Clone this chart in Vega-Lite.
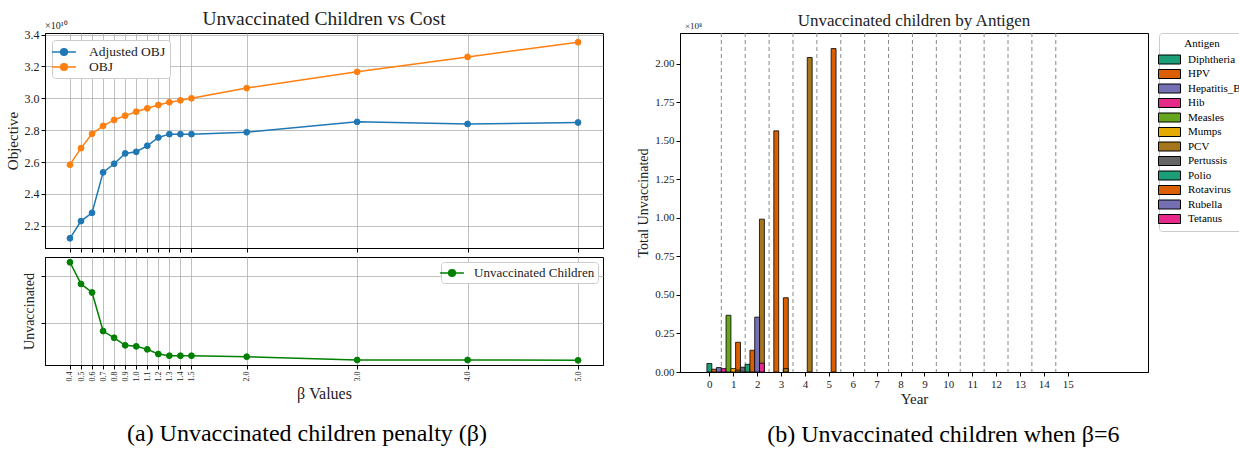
{
 "$schema": "https://vega.github.io/schema/vega-lite/v6.json",
 "background": "white",
 "padding": {"left": 4, "top": 8, "right": 0, "bottom": 0},
 "config": {
  "font": "Liberation Serif",
  "view": {"stroke": "black", "strokeWidth": 1},
  "axis": {"labelFont": "Liberation Serif", "titleFont": "Liberation Serif", "titleFontWeight": "normal", "labelColor": "#222", "titleColor": "#222", "domainColor": "black", "tickColor": "black", "gridColor": "#b0b0b0", "gridWidth": 0.8, "labelOverlap": false, "tickCount": 100},
  "legend": {"labelFont": "Liberation Serif", "titleFont": "Liberation Serif", "titleFontWeight": "normal"},
  "title": {"font": "Liberation Serif", "fontWeight": "normal", "color": "#222"}
 },
 "resolve": {"scale": {"color": "independent", "stroke": "independent"}, "legend": {"color": "independent", "stroke": "independent"}},
 "spacing": 32,
 "hconcat": [
  {
   "title": {"text": "(a) Unvaccinated children penalty (β)", "orient": "bottom", "fontSize": 24, "offset": 20, "anchor": "middle", "dx": 3, "color": "black"},
   "spacing": 3,
   "resolve": {"scale": {"color": "independent", "stroke": "independent"}, "legend": {"color": "independent", "stroke": "independent"}},
   "vconcat": [
    {
     "width": 558, "height": 215,
     "title": {"text": "Unvaccinated Children vs Cost", "fontSize": 19.5, "frame": "group", "anchor": "middle", "offset": -8},
     "data": {"values": [
      {"beta": 0.4, "series": "Adjusted OBJ", "objective": 21210000000},
      {"beta": 0.5, "series": "Adjusted OBJ", "objective": 22290000000},
      {"beta": 0.6, "series": "Adjusted OBJ", "objective": 22810000000},
      {"beta": 0.7, "series": "Adjusted OBJ", "objective": 25350000000},
      {"beta": 0.8, "series": "Adjusted OBJ", "objective": 25890000000},
      {"beta": 0.9, "series": "Adjusted OBJ", "objective": 26540000000},
      {"beta": 1.0, "series": "Adjusted OBJ", "objective": 26640000000},
      {"beta": 1.1, "series": "Adjusted OBJ", "objective": 27020000000},
      {"beta": 1.2, "series": "Adjusted OBJ", "objective": 27540000000},
      {"beta": 1.3, "series": "Adjusted OBJ", "objective": 27750000000},
      {"beta": 1.4, "series": "Adjusted OBJ", "objective": 27750000000},
      {"beta": 1.5, "series": "Adjusted OBJ", "objective": 27750000000},
      {"beta": 2.0, "series": "Adjusted OBJ", "objective": 27870000000},
      {"beta": 3.0, "series": "Adjusted OBJ", "objective": 28520000000},
      {"beta": 4.0, "series": "Adjusted OBJ", "objective": 28390000000},
      {"beta": 5.0, "series": "Adjusted OBJ", "objective": 28480000000},
      {"beta": 0.4, "series": "OBJ", "objective": 25830000000},
      {"beta": 0.5, "series": "OBJ", "objective": 26870000000},
      {"beta": 0.6, "series": "OBJ", "objective": 27770000000},
      {"beta": 0.7, "series": "OBJ", "objective": 28270000000},
      {"beta": 0.8, "series": "OBJ", "objective": 28640000000},
      {"beta": 0.9, "series": "OBJ", "objective": 28910000000},
      {"beta": 1.0, "series": "OBJ", "objective": 29160000000},
      {"beta": 1.1, "series": "OBJ", "objective": 29370000000},
      {"beta": 1.2, "series": "OBJ", "objective": 29580000000},
      {"beta": 1.3, "series": "OBJ", "objective": 29750000000},
      {"beta": 1.4, "series": "OBJ", "objective": 29870000000},
      {"beta": 1.5, "series": "OBJ", "objective": 30000000000},
      {"beta": 2.0, "series": "OBJ", "objective": 30640000000},
      {"beta": 3.0, "series": "OBJ", "objective": 31660000000},
      {"beta": 4.0, "series": "OBJ", "objective": 32600000000},
      {"beta": 5.0, "series": "OBJ", "objective": 33520000000}
     ]},
     "layer": [
      {
       "mark": {"type": "line", "strokeWidth": 1.5},
       "encoding": {
        "x": {"field": "beta", "type": "quantitative", "scale": {"domain": [0.174, 5.226], "nice": false, "zero": false}, "axis": {"values": [0.4, 0.5, 0.6, 0.7, 0.8, 0.9, 1.0, 1.1, 1.2, 1.3, 1.4, 1.5, 2.0, 3.0, 4.0, 5.0], "labels": false, "title": null, "tickSize": 4, "grid": true}},
        "y": {"field": "objective", "type": "quantitative", "scale": {"domain": [20600000000, 34100000000], "nice": false, "zero": false}, "axis": {"values": [22000000000, 24000000000, 26000000000, 28000000000, 30000000000, 32000000000, 34000000000], "labelExpr": "format(datum.value / 1e10, '.1f')", "title": "Objective", "titleFontSize": 15, "labelFontSize": 12, "tickSize": 4, "labelPadding": 2, "titlePadding": 4, "grid": true}},
        "stroke": {"field": "series", "type": "nominal", "scale": {"domain": ["Adjusted OBJ", "OBJ"], "range": ["#1f77b4", "#ff7f0e"]}, "legend": {"title": null, "orient": "top-left", "offset": 7, "symbolType": "M-1.7,0L1.7,0M-0.48,0A0.48,0.48,0,1,1,0.48,0A0.48,0.48,0,1,1,-0.48,0Z", "symbolSize": 196, "symbolStrokeWidth": 1.5, "labelFontSize": 13.5, "labelColor": "#222", "strokeColor": "#cccccc", "fillColor": "white", "padding": 4, "cornerRadius": 3, "rowPadding": -2, "labelOffset": 17}}
       }
      },
      {
       "mark": {"type": "point", "filled": true, "size": 34, "opacity": 1, "strokeWidth": 1},
       "encoding": {
        "x": {"field": "beta", "type": "quantitative"},
        "y": {"field": "objective", "type": "quantitative"},
        "stroke": {"field": "series", "type": "nominal", "scale": {"domain": ["Adjusted OBJ", "OBJ"], "range": ["#1f77b4", "#ff7f0e"]}, "legend": {"title": null, "orient": "top-left", "offset": 7, "symbolType": "M-1.7,0L1.7,0M-0.48,0A0.48,0.48,0,1,1,0.48,0A0.48,0.48,0,1,1,-0.48,0Z", "symbolSize": 196, "symbolStrokeWidth": 1.5, "labelFontSize": 13.5, "labelColor": "#222", "strokeColor": "#cccccc", "fillColor": "white", "padding": 4, "cornerRadius": 3, "rowPadding": -2, "labelOffset": 17}},
        "color": {"field": "series", "type": "nominal", "scale": {"domain": ["Adjusted OBJ", "OBJ"], "range": ["#1f77b4", "#ff7f0e"]}, "legend": {"title": null, "orient": "top-left", "offset": 7, "symbolType": "M-1.7,0L1.7,0M-0.48,0A0.48,0.48,0,1,1,0.48,0A0.48,0.48,0,1,1,-0.48,0Z", "symbolSize": 196, "symbolStrokeWidth": 1.5, "labelFontSize": 13.5, "labelColor": "#222", "strokeColor": "#cccccc", "fillColor": "white", "padding": 4, "cornerRadius": 3, "rowPadding": -2, "labelOffset": 17}}
       }
      },
      {
       "data": {"values": [{"label": "×10¹⁰"}]},
       "mark": {"type": "text", "align": "left", "baseline": "alphabetic", "dy": -4, "fontSize": 10, "color": "#222"},
       "encoding": {"x": {"datum": 0.174}, "y": {"datum": 34100000000}, "text": {"field": "label"}}
      }
     ]
    },
    {
     "width": 558, "height": 108,
     "data": {"values": [
      {"beta": 0.4, "series": "Unvaccinated Children", "unvaccinated": 22980000},
      {"beta": 0.5, "series": "Unvaccinated Children", "unvaccinated": 18360000},
      {"beta": 0.6, "series": "Unvaccinated Children", "unvaccinated": 16530000},
      {"beta": 0.7, "series": "Unvaccinated Children", "unvaccinated": 8300000},
      {"beta": 0.8, "series": "Unvaccinated Children", "unvaccinated": 6870000},
      {"beta": 0.9, "series": "Unvaccinated Children", "unvaccinated": 5260000},
      {"beta": 1.0, "series": "Unvaccinated Children", "unvaccinated": 5040000},
      {"beta": 1.1, "series": "Unvaccinated Children", "unvaccinated": 4400000},
      {"beta": 1.2, "series": "Unvaccinated Children", "unvaccinated": 3400000},
      {"beta": 1.3, "series": "Unvaccinated Children", "unvaccinated": 3040000},
      {"beta": 1.4, "series": "Unvaccinated Children", "unvaccinated": 3040000},
      {"beta": 1.5, "series": "Unvaccinated Children", "unvaccinated": 3040000},
      {"beta": 2.0, "series": "Unvaccinated Children", "unvaccinated": 2830000},
      {"beta": 3.0, "series": "Unvaccinated Children", "unvaccinated": 2130000},
      {"beta": 4.0, "series": "Unvaccinated Children", "unvaccinated": 2130000},
      {"beta": 5.0, "series": "Unvaccinated Children", "unvaccinated": 2060000}
     ]},
     "layer": [
      {
       "mark": {"type": "line", "strokeWidth": 1.5},
       "encoding": {
        "x": {"field": "beta", "type": "quantitative", "scale": {"domain": [0.174, 5.226], "nice": false, "zero": false}, "axis": {"values": [0.4, 0.5, 0.6, 0.7, 0.8, 0.9, 1.0, 1.1, 1.2, 1.3, 1.4, 1.5, 2.0, 3.0, 4.0, 5.0], "format": ".1f", "labelAngle": -90, "labelFontSize": 8, "title": "β Values", "titleFontSize": 16, "tickSize": 4, "grid": true, "titlePadding": 4}},
        "y": {"field": "unvaccinated", "type": "quantitative", "scale": {"domain": [1060000, 24100000], "nice": false, "zero": false}, "axis": {"values": [10000000, 20000000], "labels": false, "title": "Unvaccinated", "titleFontSize": 14, "tickSize": 4, "titlePadding": 4, "grid": true}},
        "stroke": {"field": "series", "type": "nominal", "scale": {"domain": ["Unvaccinated Children"], "range": ["#008000"]}, "legend": {"title": null, "orient": "top-right", "offset": 5, "symbolType": "M-1.7,0L1.7,0M-0.48,0A0.48,0.48,0,1,1,0.48,0A0.48,0.48,0,1,1,-0.48,0Z", "symbolSize": 196, "symbolStrokeWidth": 1.5, "labelFontSize": 13, "labelColor": "#222", "strokeColor": "#cccccc", "fillColor": "white", "padding": 3, "cornerRadius": 3, "labelOffset": 14}}
       }
      },
      {
       "mark": {"type": "point", "filled": true, "size": 34, "opacity": 1, "strokeWidth": 1},
       "encoding": {
        "x": {"field": "beta", "type": "quantitative"},
        "y": {"field": "unvaccinated", "type": "quantitative"},
        "stroke": {"field": "series", "type": "nominal", "scale": {"domain": ["Unvaccinated Children"], "range": ["#008000"]}, "legend": {"title": null, "orient": "top-right", "offset": 5, "symbolType": "M-1.7,0L1.7,0M-0.48,0A0.48,0.48,0,1,1,0.48,0A0.48,0.48,0,1,1,-0.48,0Z", "symbolSize": 196, "symbolStrokeWidth": 1.5, "labelFontSize": 13, "labelColor": "#222", "strokeColor": "#cccccc", "fillColor": "white", "padding": 3, "cornerRadius": 3, "labelOffset": 14}},
        "color": {"field": "series", "type": "nominal", "scale": {"domain": ["Unvaccinated Children"], "range": ["#008000"]}, "legend": {"title": null, "orient": "top-right", "offset": 5, "symbolType": "M-1.7,0L1.7,0M-0.48,0A0.48,0.48,0,1,1,0.48,0A0.48,0.48,0,1,1,-0.48,0Z", "symbolSize": 196, "symbolStrokeWidth": 1.5, "labelFontSize": 13, "labelColor": "#222", "strokeColor": "#cccccc", "fillColor": "white", "padding": 3, "cornerRadius": 3, "labelOffset": 14}}
       }
      }
     ]
    }
   ]
  },
  {
   "title": {"text": "(b) Unvaccinated children when β=6", "orient": "bottom", "fontSize": 24, "offset": 16, "anchor": "middle", "dx": 2, "color": "black"},
   "vconcat": [
    {
     "width": 468, "height": 339,
     "title": {"text": "Unvaccinated children by Antigen", "fontSize": 17, "frame": "group", "anchor": "middle", "offset": -8},
     "layer": [
      {
       "data": {"values": [{"boundary": 0.5}, {"boundary": 1.5}, {"boundary": 2.5}, {"boundary": 3.5}, {"boundary": 4.5}, {"boundary": 5.5}, {"boundary": 6.5}, {"boundary": 7.5}, {"boundary": 8.5}, {"boundary": 9.5}, {"boundary": 10.5}, {"boundary": 11.5}, {"boundary": 12.5}, {"boundary": 13.5}, {"boundary": 14.5}]},
       "mark": {"type": "rule", "strokeDash": [4, 3], "color": "#888888", "strokeWidth": 1},
       "encoding": {"x": {"field": "boundary", "type": "quantitative", "scale": {"domain": [-1.02, 18.15], "nice": false, "zero": false}, "axis": {"values": [0, 1, 2, 3, 4, 5, 6, 7, 8, 9, 10, 11, 12, 13, 14, 15], "format": "d", "grid": false, "title": "Year", "titleFontSize": 15, "labelFontSize": 11, "tickSize": 4, "titlePadding": 2}}}
      },
      {
       "data": {"values": [
        {"antigen": "Diphtheria", "year": 0, "pos": 0.0, "unvaccinated": 5500000},
        {"antigen": "HPV", "year": 0, "pos": 0.2, "unvaccinated": 1800000},
        {"antigen": "HPV", "year": 1, "pos": 1.2, "unvaccinated": 19300000},
        {"antigen": "HPV", "year": 3, "pos": 3.2, "unvaccinated": 48200000},
        {"antigen": "HPV", "year": 5, "pos": 5.2, "unvaccinated": 209900000},
        {"antigen": "Hepatitis_B", "year": 0, "pos": 0.4, "unvaccinated": 2900000},
        {"antigen": "Hib", "year": 0, "pos": 0.6, "unvaccinated": 2200000},
        {"antigen": "Measles", "year": 0, "pos": 0.8, "unvaccinated": 36800000},
        {"antigen": "Mumps", "year": 0, "pos": 1.0, "unvaccinated": 2200000},
        {"antigen": "PCV", "year": 0, "pos": 1.2, "unvaccinated": 1200000},
        {"antigen": "PCV", "year": 1, "pos": 2.2, "unvaccinated": 99200000},
        {"antigen": "PCV", "year": 2, "pos": 3.2, "unvaccinated": 2200000},
        {"antigen": "PCV", "year": 3, "pos": 4.2, "unvaccinated": 204100000},
        {"antigen": "Pertussis", "year": 0, "pos": 1.4, "unvaccinated": 3100000},
        {"antigen": "Polio", "year": 0, "pos": 1.6, "unvaccinated": 5000000},
        {"antigen": "Rotavirus", "year": 0, "pos": 1.8, "unvaccinated": 14100000},
        {"antigen": "Rotavirus", "year": 1, "pos": 2.8, "unvaccinated": 156500000},
        {"antigen": "Rubella", "year": 0, "pos": 2.0, "unvaccinated": 35600000},
        {"antigen": "Tetanus", "year": 0, "pos": 2.2, "unvaccinated": 5700000}
       ]},
       "mark": {"type": "bar", "orient": "vertical", "width": 4.9, "stroke": "black", "strokeWidth": 0.8},
       "encoding": {
        "x": {"field": "pos", "type": "quantitative"},
        "y": {"field": "unvaccinated", "type": "quantitative", "stack": null, "scale": {"domain": [0, 220000000], "nice": false, "zero": true}, "axis": {"values": [0, 25000000, 50000000, 75000000, 100000000, 125000000, 150000000, 175000000, 200000000], "labelExpr": "format(datum.value / 1e8, '.2f')", "grid": false, "title": "Total Unvaccinated", "titleFontSize": 14, "labelFontSize": 11, "tickSize": 4, "labelPadding": 2, "titlePadding": 4}},
        "color": {"field": "antigen", "type": "nominal", "scale": {"domain": ["Diphtheria", "HPV", "Hepatitis_B", "Hib", "Measles", "Mumps", "PCV", "Pertussis", "Polio", "Rotavirus", "Rubella", "Tetanus"], "range": ["#1b9e77", "#d95f02", "#7570b3", "#e7298a", "#66a61e", "#e6ab02", "#a6761d", "#666666", "#1b9e77", "#d95f02", "#7570b3", "#e7298a"]}, "legend": {"title": "Antigen", "orient": "right", "offset": 10, "titleAnchor": "middle", "titleFontSize": 11, "titlePadding": 5, "labelFontSize": 11, "symbolType": "M-2.2,-0.9H2.2V0.9H-2.2Z", "symbolSize": 100, "symbolStrokeColor": "black", "symbolStrokeWidth": 1, "strokeColor": "#cccccc", "padding": 5, "rowPadding": 1.5, "cornerRadius": 3, "labelOffset": 13}}
       }
      },
      {
       "data": {"values": [{"label": "×10⁸"}]},
       "mark": {"type": "text", "align": "left", "baseline": "alphabetic", "dy": -4, "fontSize": 9, "color": "#222"},
       "encoding": {"x": {"datum": -1.02}, "y": {"datum": 220000000}, "text": {"field": "label"}}
      }
     ]
    }
   ]
  }
 ]
}
